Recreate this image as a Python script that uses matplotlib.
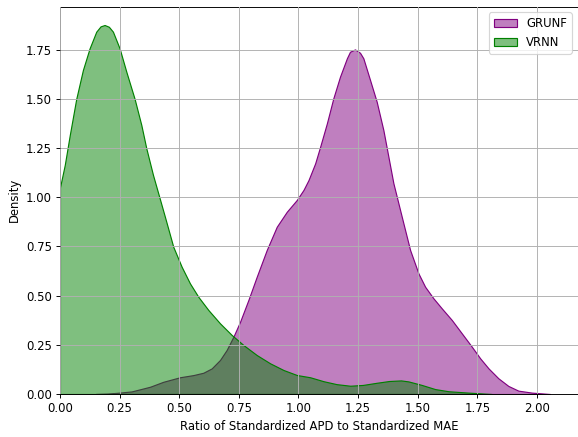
import matplotlib

matplotlib.use("Agg")
import matplotlib.pyplot as plt  # noqa: E402
from matplotlib.colors import to_rgba  # noqa: E402
from matplotlib.patches import Patch  # noqa: E402

# density curves (x = ratio, y = density)
grunf_x = [0.15, 0.20, 0.25, 0.30, 0.336, 0.378, 0.433, 0.503, 0.559, 0.601, 0.636,
           0.671, 0.699, 0.727, 0.755, 0.79, 0.825, 0.867, 0.909, 0.951, 0.993,
           1.021, 1.042, 1.07, 1.091, 1.119, 1.146, 1.174, 1.203, 1.216, 1.237,
           1.258, 1.272, 1.30, 1.328, 1.356, 1.377, 1.398, 1.419, 1.44, 1.468,
           1.503, 1.531, 1.566, 1.601, 1.643, 1.685, 1.727, 1.762, 1.797, 1.838,
           1.88, 1.922, 1.979, 2.055]
grunf_y = [0.0, 0.002, 0.007, 0.013, 0.024, 0.037, 0.062, 0.085, 0.096, 0.108, 0.13,
           0.173, 0.224, 0.291, 0.367, 0.478, 0.596, 0.732, 0.85, 0.926, 0.986,
           1.037, 1.087, 1.172, 1.257, 1.375, 1.502, 1.612, 1.706, 1.739, 1.751,
           1.734, 1.706, 1.596, 1.485, 1.341, 1.206, 1.071, 0.969, 0.867, 0.732,
           0.613, 0.545, 0.486, 0.435, 0.376, 0.308, 0.24, 0.181, 0.13, 0.08,
           0.041, 0.017, 0.007, 0.0]

vrnn_x = [0.0, 0.02, 0.041, 0.068, 0.096, 0.124, 0.152, 0.17, 0.187, 0.205, 0.222,
          0.25, 0.278, 0.313, 0.341, 0.362, 0.39, 0.418, 0.44, 0.475, 0.51, 0.545,
          0.58, 0.622, 0.671, 0.72, 0.769, 0.825, 0.881, 0.937, 0.993, 1.049, 1.105,
          1.16, 1.217, 1.27, 1.328, 1.38, 1.43, 1.461, 1.517, 1.573, 1.629, 1.713,
          1.81]
vrnn_y = [1.05, 1.164, 1.316, 1.499, 1.646, 1.756, 1.841, 1.868, 1.875, 1.866, 1.841,
          1.756, 1.638, 1.499, 1.367, 1.248, 1.113, 0.994, 0.90, 0.748, 0.647, 0.562,
          0.494, 0.427, 0.359, 0.30, 0.249, 0.198, 0.156, 0.122, 0.0965, 0.085, 0.065,
          0.05, 0.042, 0.046, 0.057, 0.066, 0.069, 0.064, 0.046, 0.025, 0.014, 0.007,
          0.0]

series = [("GRUNF", grunf_x, grunf_y, "purple"),
          ("VRNN", vrnn_x, vrnn_y, "green")]

DPI = 83.5
fig = plt.figure(figsize=(578 / DPI, 437 / DPI), dpi=DPI)
ax = fig.add_axes([60 / 578, 43 / 437, 517.5 / 578, 387.3 / 437])

handles = []
for name, xs, ys, col in series:
    ax.fill_between(xs, ys, facecolor=to_rgba(col, 0.5), edgecolor=col, linewidth=1)
    handles.append(Patch(facecolor=to_rgba(col, 0.5), edgecolor=col, label=name))

ax.set_xlim(0, 2.17)
ax.set_ylim(0, 1.968)
ax.set_xticks([0.0, 0.25, 0.5, 0.75, 1.0, 1.25, 1.5, 1.75, 2.0])
ax.set_xlabel("Ratio of Standardized APD to Standardized MAE")
ax.set_ylabel("Density")
ax.grid(True)
ax.set_axisbelow(False)
ax.legend(handles=handles, loc="upper right")

fig.savefig("out.png", dpi=DPI)
